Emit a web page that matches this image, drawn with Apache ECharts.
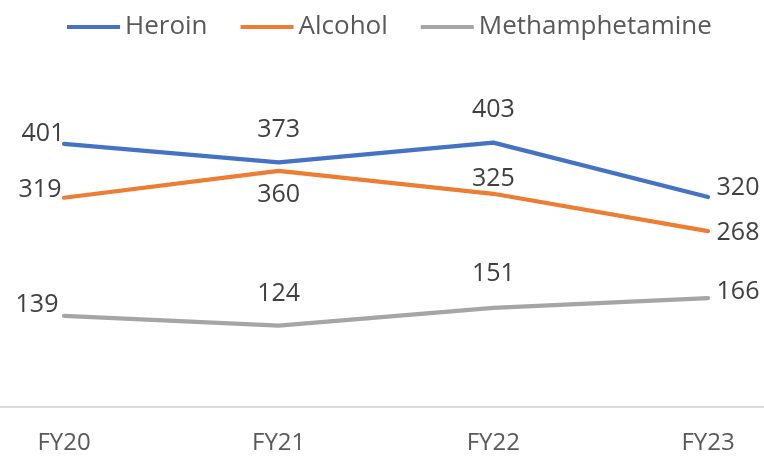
<!DOCTYPE html>
<html>
<head>
<meta charset="utf-8">
<script src="https://cdn.jsdelivr.net/npm/echarts@6/dist/echarts.min.js"></script>
<style>
html,body{margin:0;padding:0;background:#fff;}
#chart{width:764px;height:461px;}
</style>
</head>
<body>
<div id="chart"></div>
<script>
const categories = ['FY20', 'FY21', 'FY22', 'FY23'];
const seriesNames = ['Heroin', 'Alcohol', 'Methamphetamine'];
const heroin = [401, 373, 403, 320];
const alcohol = [319, 360, 325, 268];
const methamphetamine = [139, 124, 151, 166];

// label placement (style only)
const labelOffsets = [
  [[-21, -10], [0, -32], [0, -33], [30, -9]],
  [[-24, -8], [0, 24], [0, -15], [30, 2]],
  [[-27, -11], [0, -32], [0, -34], [30, -6]]
];
const colors = ['#4472C4', '#ED7D31', '#A5A5A5'];
const FONT = '"Open Sans", "Noto Sans", sans-serif';

const values = [heroin, alcohol, methamphetamine];
const chart = echarts.init(document.getElementById('chart'));

const series = seriesNames.map((name, si) => ({
  name: name,
  type: 'line',
  symbol: 'circle',
  symbolSize: 0.1,
  showSymbol: true,
  itemStyle: { color: colors[si] },
  lineStyle: { color: colors[si], width: 4.2, cap: 'round', join: 'round' },
  emphasis: { disabled: true },
  animation: false,
  data: values[si].map((v, i) => ({
    value: v,
    label: {
      show: true,
      position: 'inside',
      offset: labelOffsets[si][i],
      color: '#404040',
      fontFamily: FONT,
      fontSize: 25
    }
  }))
}));

chart.setOption({
  backgroundColor: '#ffffff',
  animation: false,
  color: colors,
  legend: {
    data: seriesNames,
    left: 62,
    top: 9,
    icon: 'rect',
    itemWidth: 53,
    itemHeight: 4,
    itemGap: 33,
    textStyle: { color: '#595959', fontFamily: FONT, fontSize: 26 }
  },
  grid: {
    left: 64,
    right: 56,
    top: 79,
    bottom: 54,
    containLabel: false
  },
  graphic: [{
    type: 'line',
    z: 1,
    shape: { x1: 0, y1: 407, x2: 764, y2: 407 },
    style: { stroke: '#d9d9d9', lineWidth: 2 }
  }],
  xAxis: {
    type: 'category',
    data: categories,
    boundaryGap: false,
    axisLine: { show: false },
    axisTick: { show: false },
    axisLabel: { color: '#595959', fontFamily: FONT, fontSize: 24, margin: 24 },
    splitLine: { show: false }
  },
  yAxis: {
    type: 'value',
    min: 0,
    max: 500,
    interval: 100,
    show: false,
    splitLine: { show: false }
  },
  series: series
});
</script>
</body>
</html>
